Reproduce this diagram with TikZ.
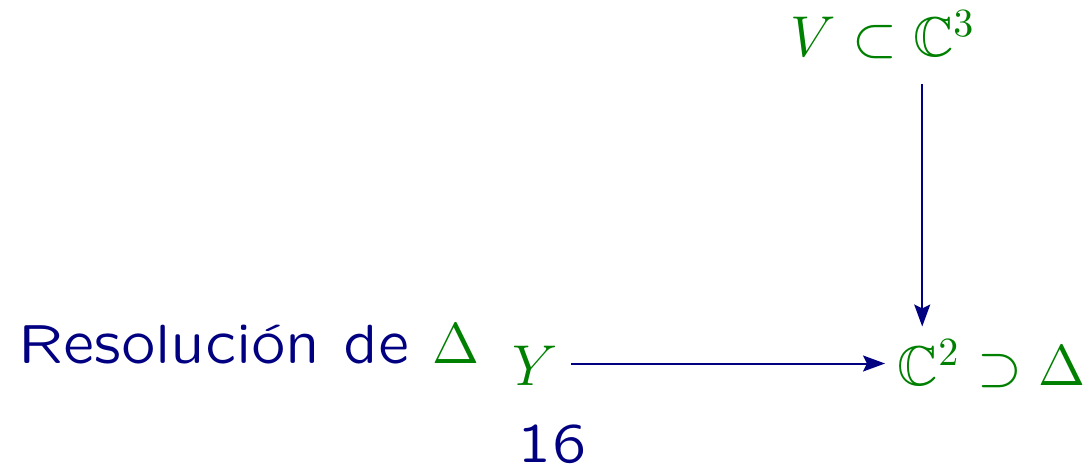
\documentclass[tikz,border=0pt]{standalone}
\usepackage{amsmath}
\usepackage{amssymb}
\usepackage{xcolor}
\usepackage{tikz}
\usetikzlibrary{arrows.meta, positioning, calc}
\definecolor{slidenavy}{RGB}{0, 0, 128}
\definecolor{mathgreen}{RGB}{0, 128, 0}
\newcommand{\slidesans}{\fontencoding{OT1}\fontfamily{lcmss}\selectfont}

\begin{document}
\begin{tikzpicture}[
          x=0.25pt, y=-0.25pt,
          obj/.style={inner sep=3pt, anchor=base west, text=mathgreen,
                      font=\fontsize{14}{17}\selectfont},
          lbl/.style={inner sep=0pt, anchor=base west, text=slidenavy,
                      font=\fontsize{14}{17}\selectfont\slidesans},
          arr/.style={-{Stealth[length=5.5pt, width=4pt, inset=1pt]}, line width=0.5pt, color=slidenavy}
        ]
        \useasboundingbox (0,0) rectangle (1091,467);
        % Objects
        \node[obj] (V)  at (778,57)  {$V\subset\mathbb{C}^3$};
        \node[obj] (Y)  at (500,386) {$Y$};
        \node[obj] (c2) at (885,386) {$\mathbb{C}^2$};
        \node[obj, inner sep=0pt] (sup) at ([xshift=-3pt]c2.base east) {${}\supset\Delta$};
        % Text
        \node[lbl] (res)  at (18,364)  {Resoluci\'on de \textcolor{mathgreen}{$\Delta$}};
        \node[lbl, font=\fontsize{13.5}{16}\selectfont\slidesans] (page) at (517,463) {16};

        \draw[arr, shorten <=3pt] ([xshift=-1.7pt]V.south -| c2.north) -- ([xshift=-1.7pt]c2.north);
        \draw[arr] ([yshift=0.7pt]Y.east) -- ([yshift=0.7pt]Y.east -| c2.west);
      \end{tikzpicture}
\end{document}
